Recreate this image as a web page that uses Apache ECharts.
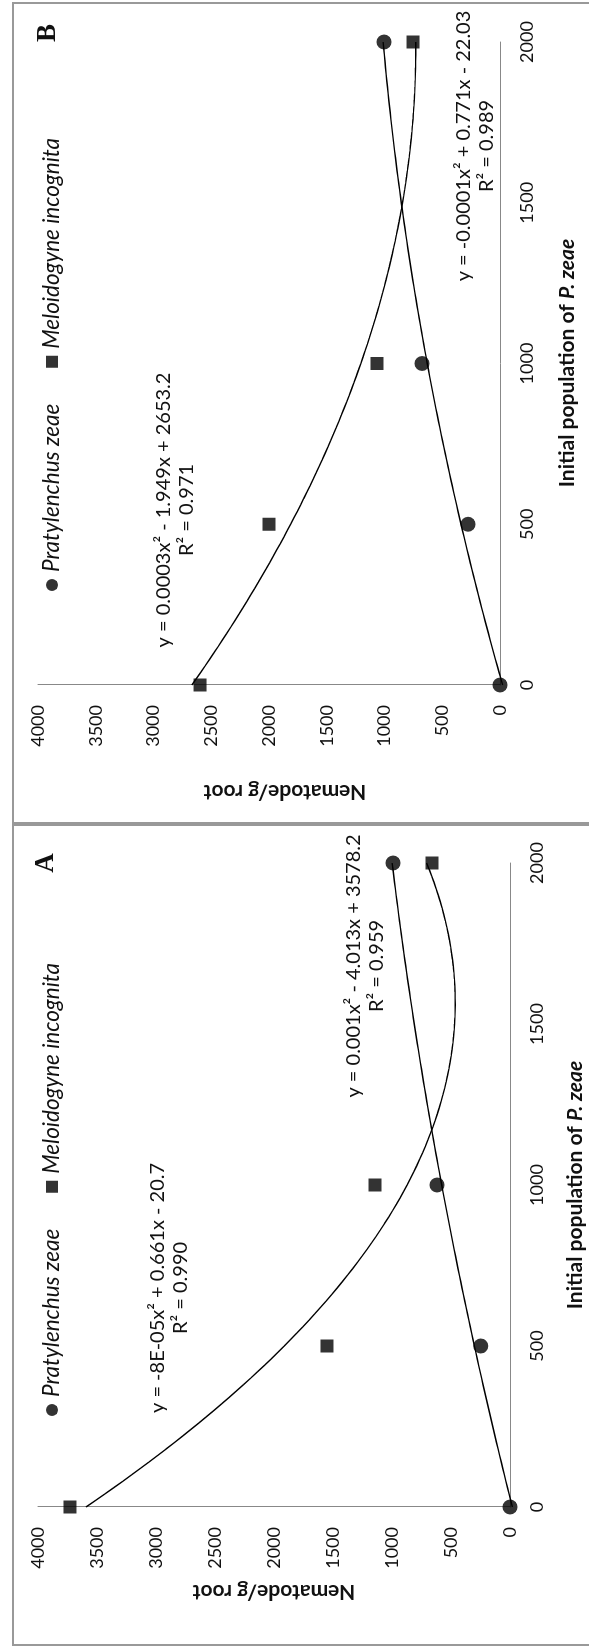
<!DOCTYPE html>
<html>
<head>
<meta charset="utf-8">
<script src="https://cdn.jsdelivr.net/npm/echarts@6/dist/echarts.min.js"></script>
<style>
  html, body { margin: 0; padding: 0; background: #fff; overflow: hidden; }
  body { width: 589px; height: 1648px; position: relative; }
  /* the figure is laid out landscape and turned a quarter-turn counter-clockwise */
  #chart {
    position: absolute; left: 0; top: 0;
    width: 1648px; height: 589px;
    transform-origin: 0 0;
    transform: translate(0px, 1648px) rotate(-90deg);
  }
</style>
</head>
<body>
<div id="chart"></div>
<script>
// Initial inoculum levels of P. zeae (nematodes per plant)
const doses = [0, 500, 1000, 2000];

// Panel A: final nematode counts per g root
const pratA = [0, 248, 619, 992];
const meloA = [3729, 1551, 1144, 661];

// Panel B: final nematode counts per g root
const pratB = [0, 277, 675, 1004];
const meloB = [2597, 2000, 1065, 753];

const seriesNames = ['Pratylenchus zeae', 'Meloidogyne incognita'];
const panelLetters = ['A', 'B'];

// Trendline equations and goodness of fit, per panel: [P. zeae, M. incognita]
const eqA = ['y = -8E-05x\u00B2 + 0.661x - 20.7\nR\u00B2 = 0.990',
             'y = 0.001x\u00B2 - 4.013x + 3578.2\nR\u00B2 = 0.959'];
const eqB = ['y = -0.0001x\u00B2 + 0.771x - 22.03\nR\u00B2 = 0.989',
             'y = 0.0003x\u00B2 - 1.949x + 2653.2\nR\u00B2 = 0.971'];

const xRange = [0, 2000, 500];   // min, max, step
const yRange = [0, 4000, 500];
const yTitle = 'Nematode/g root';

const SANS = 'Lato';
const INK = '#111';
const AXIS_GREY = '#888';

// Second-order least-squares polynomial trendline
function quadFit(xs, ys) {
  const S = [0, 0, 0, 0, 0], T = [0, 0, 0];
  xs.forEach((x, i) => {
    for (let k = 0; k < 5; k++) S[k] += Math.pow(x, k);
    for (let k = 0; k < 3; k++) T[k] += Math.pow(x, k) * ys[i];
  });
  const M = [[S[0], S[1], S[2], T[0]], [S[1], S[2], S[3], T[1]], [S[2], S[3], S[4], T[2]]];
  for (let c = 0; c < 3; c++) {
    for (let r = c + 1; r < 3; r++) {
      const f = M[r][c] / M[c][c];
      for (let k = c; k < 4; k++) M[r][k] -= f * M[c][k];
    }
  }
  const a = [0, 0, 0];
  for (let r = 2; r >= 0; r--) {
    let s = M[r][3];
    for (let k = r + 1; k < 3; k++) s -= M[r][k] * a[k];
    a[r] = s / M[r][r];
  }
  return a;
}
function trendPoints(xs, ys) {
  const a = quadFit(xs, ys);
  const pts = [];
  const lo = xs[0], hi = xs[xs.length - 1];
  for (let i = 0; i <= 100; i++) {
    const x = lo + (hi - lo) * i / 100;
    pts.push([x, a[0] + a[1] * x + a[2] * x * x]);
  }
  return pts;
}
const pairs = ys => doses.map((d, i) => [d, ys[i]]);

const chart = echarts.init(document.getElementById('chart'), null, { renderer: 'canvas' });

function axisX(gi) {
  return {
    type: 'value', gridIndex: gi, min: xRange[0], max: xRange[1], interval: xRange[2],
    axisLine: { show: true, onZero: false, lineStyle: { color: AXIS_GREY, width: 1 } },
    axisTick: { show: false }, splitLine: { show: false },
    axisLabel: { margin: 18, fontFamily: SANS, fontSize: 18, color: INK, formatter: v => String(v) }
  };
}
function axisY(gi) {
  return {
    type: 'value', gridIndex: gi, min: yRange[0], max: yRange[1], interval: yRange[2],
    axisLine: { show: true, onZero: false, lineStyle: { color: AXIS_GREY, width: 1 } },
    axisTick: { show: false }, splitLine: { show: false },
    axisLabel: { margin: 20, fontFamily: SANS, fontSize: 18, color: INK, formatter: v => String(v) }
  };
}
function scatter(name, gi, ys, symbol, size) {
  return {
    name, type: 'scatter', xAxisIndex: gi, yAxisIndex: gi, data: pairs(ys),
    symbol, symbolSize: size, itemStyle: { color: '#000' }, z: 3
  };
}
function trend(gi, ys) {
  return {
    type: 'line', xAxisIndex: gi, yAxisIndex: gi, data: trendPoints(doses, ys),
    showSymbol: false, silent: true, clip: false,
    lineStyle: { color: '#000', width: 1.4 }, z: 2
  };
}
function legend(left) {
  return {
    left, top: 40, padding: 0, orient: 'horizontal', selectedMode: false,
    itemWidth: 12, itemHeight: 12, itemGap: 36,
    data: [{ name: seriesNames[0], icon: 'circle' }, { name: seriesNames[1], icon: 'rect' }],
    textStyle: { fontFamily: SANS, fontStyle: 'italic', fontSize: 22.5, lineHeight: 24, color: INK, padding: [0, 0, 0, 2] }
  };
}
function txt(x, y, text, extra) {
  return {
    type: 'text', x, y, silent: true,
    style: Object.assign({
      text, fontFamily: SANS, fontSize: 20, fill: INK,
      align: 'center', verticalAlign: 'middle', lineHeight: 23
    }, extra || {})
  };
}
function xTitle(x, y) {
  return {
    type: 'text', x, y, silent: true,
    style: {
      text: '{b|Initial population of }{bi|P. zeae}',
      align: 'center', verticalAlign: 'middle',
      rich: {
        b: { fontFamily: SANS, fontWeight: 'bold', fontSize: 21, fill: INK },
        bi: { fontFamily: SANS, fontWeight: 'bold', fontStyle: 'italic', fontSize: 21, fill: INK }
      }
    }
  };
}
function yTitleText(x, y) {
  const t = txt(x, y, yTitle, { fontWeight: 'bold', fontSize: 21 });
  t.rotation = Math.PI / 2;
  return t;
}
function letter(x, y, ch) {
  return txt(x, y, ch, { fontFamily: 'Liberation Serif', fontWeight: 'bold', fontSize: 27 });
}

chart.setOption({
  backgroundColor: '#fff',
  animation: false,
  grid: [
    { left: 141, top: 38, width: 644, height: 472 },
    { left: 963, top: 38, width: 643, height: 462 }
  ],
  xAxis: [axisX(0), axisX(1)],
  yAxis: [axisY(0), axisY(1)],
  legend: [legend(232), legend(1057)],
  series: [
    trend(0, pratA), trend(0, meloA),
    scatter(seriesNames[0], 0, pratA, 'circle', 15),
    scatter(seriesNames[1], 0, meloA, 'rect', 13),
    trend(1, pratB), trend(1, meloB),
    scatter(seriesNames[0], 1, pratB, 'circle', 15),
    scatter(seriesNames[1], 1, meloB, 'rect', 13)
  ],
  graphic: [
    // panel frames
    { type: 'rect', silent: true, shape: { x: 3, y: 13, width: 820, height: 620 },
      style: { fill: 'none', stroke: '#999', lineWidth: 2 } },
    { type: 'rect', silent: true, shape: { x: 825, y: 13, width: 820, height: 620 },
      style: { fill: 'none', stroke: '#999', lineWidth: 2 } },
    letter(785, 46, panelLetters[0]),
    letter(1615, 48, panelLetters[1]),
    // trendline equations
    txt(360, 169, eqA[0]),
    txt(682, 365, eqA[1]),
    txt(1502, 475, eqB[0]),
    txt(1138, 175, eqB[1]),
    // axis titles
    xTitle(463, 575),
    xTitle(1285, 567),
    yTitleText(56, 274),
    yTitleText(856, 285)
  ]
});
</script>
</body>
</html>
